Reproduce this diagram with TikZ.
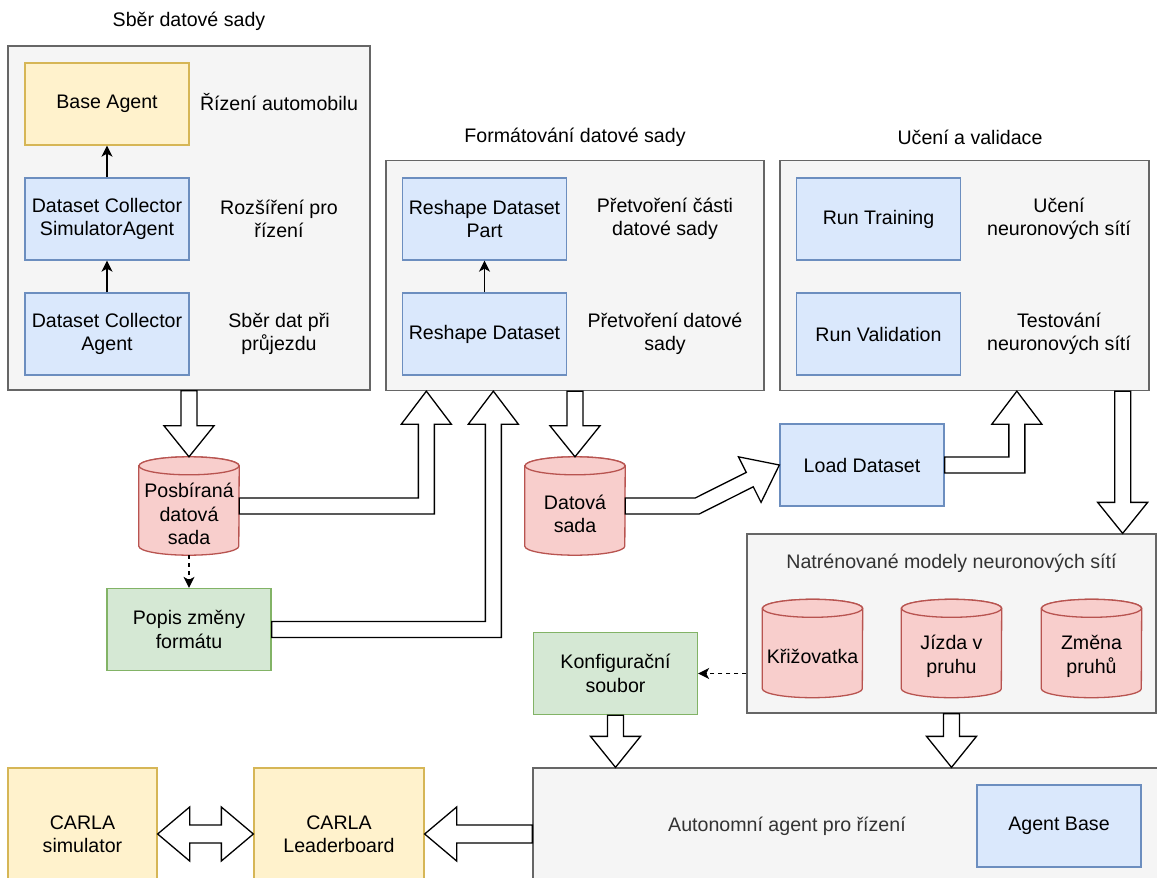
\documentclass[tikz,border=0pt]{standalone}
\usepackage{fontspec}
\setmainfont{Liberation Sans}
\usetikzlibrary{calc,arrows.meta}
\definecolor{grpF}{HTML}{F5F5F5}
\definecolor{grpS}{HTML}{666666}
\definecolor{yelF}{HTML}{FFF2CC}
\definecolor{yelS}{HTML}{D6B656}
\definecolor{bluF}{HTML}{DAE8FC}
\definecolor{bluS}{HTML}{6C8EBF}
\definecolor{redF}{HTML}{F8CECC}
\definecolor{redS}{HTML}{B85450}
\definecolor{grnF}{HTML}{D5E8D4}
\definecolor{grnS}{HTML}{82B366}
\definecolor{txtG}{HTML}{333333}

\newcommand\flexD[2]{\draw[flex] ($(#1)+(-8,0)$) -- ($(#2)+(-8,-31)$) -- ($(#2)+(-25,-31)$) -- (#2) -- ($(#2)+(25,-31)$) -- ($(#2)+(8,-31)$) -- ($(#1)+(8,0)$) -- cycle;}
\newcommand\flexRU[3]{\draw[flex] ($(#1)+(0,-8)$) -- ($(#2)+(-8,-8)$) -- ($(#3)+(-8,33)$) -- ($(#3)+(-25,33)$) -- (#3) -- ($(#3)+(25,33)$) -- ($(#3)+(8,33)$) -- ($(#2)+(8,8)$) -- ($(#1)+(0,8)$) -- cycle;}
\newcommand\dbcyl[3]{%
  \node[cylbox] (#1) at (#2) {};
  \draw[cylsty] ($(#1.north west)+(0,9)$) -- ($(#1.south west)+(0,-9)$) arc[start angle=180,end angle=0,x radius=50,y radius=9] -- ($(#1.north east)+(0,9)$) arc[start angle=0,end angle=-180,x radius=50,y radius=9] -- cycle;
  \draw[cylsty] ($(#1.north)+(0,9)$) ellipse[x radius=50,y radius=9];
  \node (#1t) at ($(#1)+(0,8)$) {#3};
}

\begin{document}
\begin{tikzpicture}[x=1pt,y=-1pt,
  every node/.style={font=\fontsize{19.6}{23.5}\selectfont, align=center, text=black},
  grp/.style={draw=grpS, fill=grpF, line width=1.3pt},
  box/.style={minimum width=164pt, minimum height=82pt, line width=1.3pt, inner sep=2pt},
  yel/.style={box, draw=yelS, fill=yelF},
  blu/.style={box, draw=bluS, fill=bluF},
  grn/.style={box, draw=grnS, fill=grnF},
  cylbox/.style={minimum width=100pt, minimum height=98pt, inner sep=0pt},
  cylsty/.style={draw=redS, fill=redF, line width=1.3pt},
  flex/.style={draw=black, fill=white, line width=1.3pt, line join=miter},
  thinarr/.style={draw=black, line width=1.3pt, -{Stealth[length=11pt,width=11pt,inset=3pt]}},
  dasharr/.style={thinarr, dash pattern=on 4pt off 4pt},
  greytext/.style={text=txtG}
]
\useasboundingbox (0,0) rectangle (1157,878);
\clip (0,0) rectangle (1157,878);
\fill[white] (0,0) rectangle (1157,878);

% titles
\node (t1) at (189,21) {Sběr datové sady};
\node (t2) at (575,137) {Formátování datové sady};
\node (t3) at (970,137) {Učení a validace};

% groups
\node[grp, minimum width=362pt, minimum height=344pt] (g1) at (189,218) {};
\node[grp, minimum width=378pt, minimum height=230pt] (g2) at (575,275.5) {};
\node[grp, minimum width=369pt, minimum height=230pt] (g3) at (964.5,275.5) {};
\node[grp, minimum width=409pt, minimum height=179pt] (g4) at (951.5,623.5) {};
\node[grp, minimum width=625pt, minimum height=116pt] (g5) at (845.5,826) {};
\node[greytext] (t4) at (951.5,563) {Natrénované modely neuronových sítí};
\node[greytext] (t5) at (787,826) {Autonomní agent pro řízení};

% group 1
\node[yel] (base) at (107,104) {Base Agent};
\node[blu] (dc2) at (107,219) {Dataset Collector\\SimulatorAgent};
\node[blu] (dc1) at (107,334) {Dataset Collector\\Agent};
\node (l1) at (279,102) {Řízení automobilu};
\node (l2) at (279,219) {Rozšíření pro\\řízení};
\node (l3) at (279,334) {Sběr dat při\\průjezdu};
\draw[thinarr] (dc2.north) -- (base.south);
\draw[thinarr] (dc1.north) -- (dc2.south);

% group 2
\node[blu] (rdp) at (484.5,219) {Reshape Dataset\\Part};
\node[blu] (rd) at (484.5,334) {Reshape Dataset};
\node (l4) at (665,219) {Přetvoření části\\datové sady};
\node (l5) at (665,334) {Přetvoření datové\\sady};
\draw[thinarr] (rd.north) -- (rdp.south);

% group 3
\node[blu] (rt) at (878.5,219) {Run Training};
\node[blu] (rv) at (878.5,334) {Run Validation};
\node (l6) at (1059,219) {Učení\\neuronových sítí};
\node (l7) at (1059,334) {Testování\\neuronových sítí};

% middle
\dbcyl{c1}{189,506}{Posbíraná\\datová\\sada}
\dbcyl{c2}{575,506}{Datová\\sada}
\node[grn] (p) at (189,629.5) {Popis změny\\formátu};
\node[blu] (ld) at (862,465) {Load Dataset};

% trained models
\dbcyl{c3}{812.5,648.5}{Křižovatka}
\dbcyl{c4}{951.5,648.5}{Jízda v\\pruhu}
\dbcyl{c5}{1091.5,648.5}{Změna\\pruhů}
\node[grn] (k) at (615.5,673.5) {Konfigurační\\soubor};

% bottom
\node[blu] (ab) at (1059,826) {Agent Base};
\node[yel, minimum width=149pt, minimum height=132pt] (sim) at (82.5,834) {CARLA\\simulator};
\node[yel, minimum width=170pt, minimum height=132pt] (lb) at (339,834) {CARLA\\Leaderboard};

% dashed arrows
\draw[dasharr] (c1.south) -- (p.north);
\coordinate (s4) at (g4.west |- k.east);
\draw[dasharr] (s4) -- (k.east);

% hollow arrows
\coordinate (d1) at (c1.north |- g1.south);
\flexD{d1}{c1.north}
\coordinate (d2) at (c2.north |- g2.south);
\flexD{d2}{c2.north}
\coordinate (d3a) at ($(g3.south east)+(-27,0)$);
\coordinate (d3b) at (d3a |- g4.north);
\flexD{d3a}{d3b}
\coordinate (d4) at (g4.south |- g5.north);
\flexD{g4.south}{d4}
\coordinate (d5) at (k.south |- g5.north);
\flexD{k.south}{d5}

\coordinate (u1) at ($(g2.south west)+(41,0)$);
\coordinate (k1) at (u1 |- c1.east);
\flexRU{c1.east}{k1}{u1}
\coordinate (u2) at ($(g2.south west)+(108,0)$);
\coordinate (k2) at (u2 |- p.east);
\flexRU{p.east}{k2}{u2}
\coordinate (u3) at ($(g3.south west)+(237.5,0)$);
\coordinate (k3) at (u3 |- ld.east);
\flexRU{ld.east}{k3}{u3}

\draw[flex] ($(c2.east)+(0,-8)$) -- ($(c2.east)+(70,-8)$) -- ($(ld.west)+(-33.1,7.4)$) -- ($(ld.west)+(-40.9,-8.2)$) -- (ld.west) -- ($(ld.west)+(-18.3,37.4)$) -- ($(ld.west)+(-26.1,21.8)$) -- ($(c2.east)+(74,8)$) -- ($(c2.east)+(0,8)$) -- cycle;

\coordinate (s6) at (g5.west |- lb.east);
\draw[flex] ($(s6)+(0,-9)$) -- ($(lb.east)+(32,-9)$) -- ($(lb.east)+(32,-27)$) -- (lb.east) -- ($(lb.east)+(32,27)$) -- ($(lb.east)+(32,9)$) -- ($(s6)+(0,9)$) -- cycle;

\draw[flex] (sim.east) -- ($(sim.east)+(32,-27)$) -- ($(sim.east)+(32,-9)$) -- ($(lb.west)+(-32,-9)$) -- ($(lb.west)+(-32,-27)$) -- (lb.west) -- ($(lb.west)+(-32,27)$) -- ($(lb.west)+(-32,9)$) -- ($(sim.east)+(32,9)$) -- ($(sim.east)+(32,27)$) -- cycle;
\end{tikzpicture}
\end{document}
